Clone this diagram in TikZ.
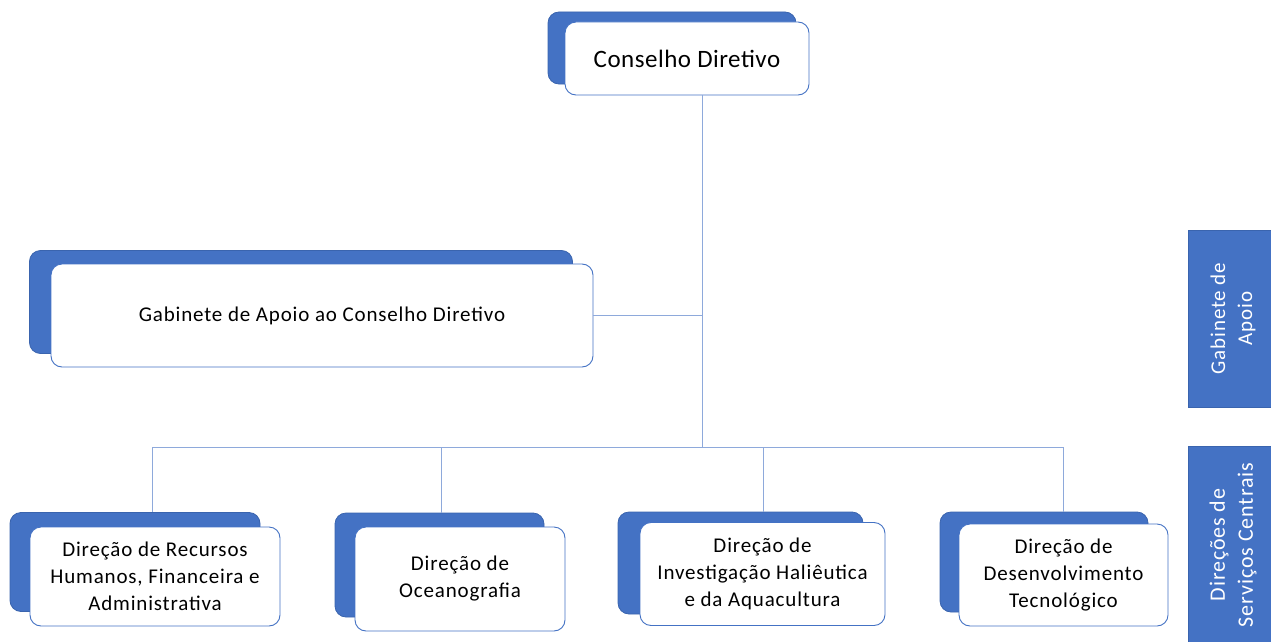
\documentclass[tikz,border=0pt]{standalone}
\usepackage{fontspec}
\setmainfont{Carlito}[LetterSpace=4]
\usetikzlibrary{positioning,calc}
\definecolor{orgblue}{HTML}{4472C4}
\definecolor{orgdark}{HTML}{3A64AE}
\definecolor{linkblue}{HTML}{8EA9DB}
\tikzset{
    every node/.style={font=\fontsize{21}{27}\selectfont},
    backbox/.style={draw=orgdark, fill=orgblue, rounded corners=11pt, inner sep=0pt, line width=0.8pt},
    frontbox/.style={draw=orgblue, fill=white, rounded corners=11pt, inner sep=0pt, line width=0.9pt, align=center},
    sidebox/.style={fill=orgblue, draw=orgdark, inner sep=0pt, line width=0.6pt},
    sidetext/.style={white, rotate=90, align=center},
    link/.style={draw=linkblue, line width=1pt},
}

\begin{document}
\begin{tikzpicture}[x=1pt,y=-1pt]
  \useasboundingbox (0,0) rectangle (1271,642);
  % shadows behind the boxes
  \node[backbox, minimum width=248pt, minimum height=72pt] (cdb) at (672,48) {};
  \node[backbox, minimum width=543pt, minimum height=103pt] (gabb) at (301,302) {};
  \node[backbox, minimum width=250pt, minimum height=99pt] (d1b) at (135,562) {};
  \node[backbox, minimum width=209pt, minimum height=104pt] (d2b) at (439.5,565) {};
  \node[backbox, minimum width=245pt, minimum height=102pt] (d3b) at (740.5,563) {};
  \node[backbox, minimum width=208pt, minimum height=100pt] (d4b) at (1044,562) {};
  % front boxes with the text
  \node[frontbox, minimum width=244pt, minimum height=73pt, font=\fontsize{25}{30}\selectfont\addfontfeature{LetterSpace=2}] (cd) at (687,58.5) {Conselho Diretivo};
  \node[frontbox, minimum width=542pt, minimum height=103pt] (gab) at (322,315.5) {Gabinete de Apoio ao Conselho Diretivo};
  \node[frontbox, minimum width=250pt, minimum height=99pt] (d1) at (155,576.5) {Direção de Recursos\\Humanos, Financeira e\\Administrativa};
  \node[frontbox, minimum width=210pt, minimum height=104pt] (d2) at (460,579) {Direção de\\Oceanografia};
  \node[frontbox, minimum width=245pt, minimum height=103pt] (d3) at (762.5,574) {Direção de\\Investigação Haliêutica\\e da Aquacultura};
  \node[frontbox, minimum width=209pt, minimum height=102pt] (d4) at (1063.5,575) {Direção de\\Desenvolvimento\\Tecnológico};
  % side labels
  \node[sidebox, minimum width=84pt, minimum height=177pt] (sgab) at (1230,318.5) {};
  \node[sidetext] (sgabt) at ($(sgab)+(3,0)$) {Gabinete de\\Apoio};
  \node[sidebox, minimum width=84pt, minimum height=198pt] (sdir) at (1230,545) {};
  \node[sidetext, font=\fontsize{22}{28}\selectfont] (sdirt) at ($(sdir)+(3,0)$) {Direções de\\Serviços Centrais};
  % connectors
  \coordinate (hub) at (702,447);
  \coordinate (bus1) at (152,447);
  \coordinate (bus2) at (441,447);
  \coordinate (bus3) at (763,447);
  \coordinate (bus4) at (1063,447);
  \draw[link] (cd.south -| hub) -- (hub);
  \draw[link] (gab.east) -- (gab.east -| hub);
  \draw[link] (bus1) -- (bus4);
  \draw[link] (bus1) -- (bus1 |- d1b.north);
  \draw[link] (bus2) -- (bus2 |- d2b.north);
  \draw[link] (bus3) -- (bus3 |- d3b.north);
  \draw[link] (bus4) -- (bus4 |- d4b.north);
\end{tikzpicture}
\end{document}
